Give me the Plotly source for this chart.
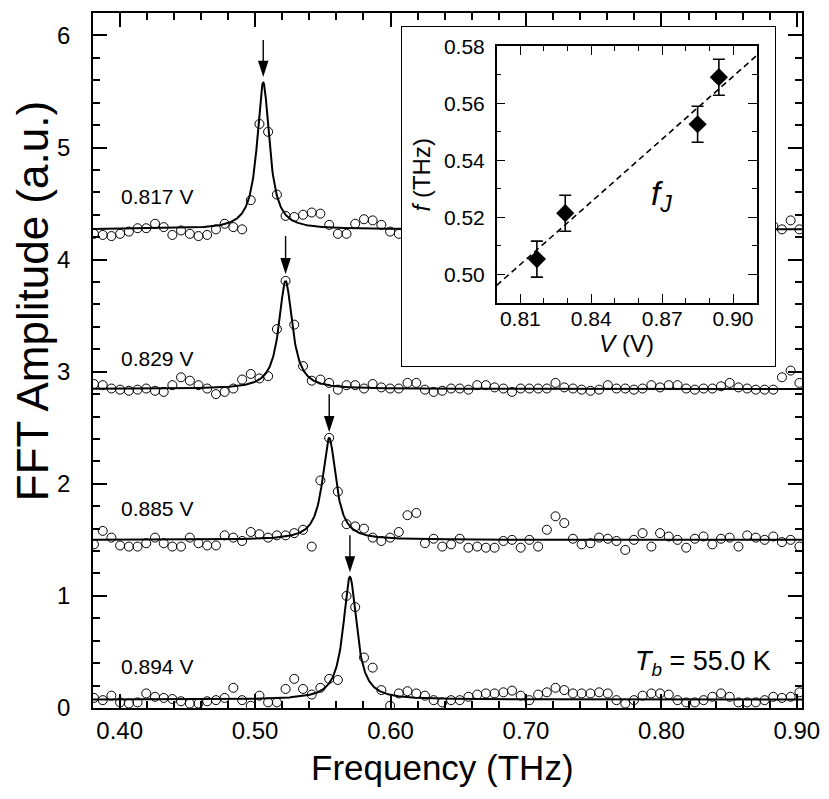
import numpy as np
import plotly.graph_objects as go

# ---------------- data ----------------
freq = [0.3810, 0.3875, 0.3939, 0.4003, 0.4068, 0.4132, 0.4196, 0.4261, 0.4325, 0.4389,
        0.4453, 0.4518, 0.4582, 0.4646, 0.4711, 0.4775, 0.4839, 0.4904, 0.4968, 0.5032,
        0.5096, 0.5161, 0.5225, 0.5289, 0.5354, 0.5418, 0.5482, 0.5547, 0.5611, 0.5675,
        0.5739, 0.5804, 0.5868, 0.5932, 0.5997, 0.6061, 0.6125, 0.6190, 0.6254, 0.6318,
        0.6382, 0.6447, 0.6511, 0.6575, 0.6640, 0.6704, 0.6768, 0.6833, 0.6897, 0.6961,
        0.7025, 0.7090, 0.7154, 0.7218, 0.7283, 0.7347, 0.7411, 0.7476, 0.7540, 0.7604,
        0.7668, 0.7733, 0.7797, 0.7861, 0.7926, 0.7990, 0.8054, 0.8119, 0.8183, 0.8247,
        0.8311, 0.8376, 0.8440, 0.8504, 0.8569, 0.8633, 0.8697, 0.8762, 0.8826, 0.8890,
        0.8954, 0.9019]

amp_817 = [4.23, 4.22, 4.21, 4.23, 4.25, 4.28, 4.28, 4.32, 4.29, 4.22,
           4.26, 4.23, 4.21, 4.22, 4.27, 4.32, 4.29, 4.27, 4.53, 5.21,
           5.14, 4.58, 4.39, 4.38, 4.40, 4.42, 4.41, 4.31, 4.23, 4.23,
           4.32, 4.36, 4.35, 4.31, 4.25, 4.23] + [None] * 42 + [4.30, 4.27, 4.35, 4.27]

amp_829 = [2.89, 2.88, 2.85, 2.84, 2.83, 2.84, 2.85, 2.83, 2.82, 2.88,
           2.95, 2.92, 2.88, 2.85, 2.80, 2.82, 2.85, 2.93, 2.98, 2.94,
           2.96, 3.38, 3.81, 3.42, 3.05, 2.92, 2.93, 2.90, 2.84, 2.88,
           2.88, 2.85, 2.89, 2.86, 2.85, 2.85, 2.90, 2.90, 2.84, 2.82,
           2.83, 2.85, 2.85, 2.84, 2.88, 2.88, 2.86, 2.85, 2.82, 2.85,
           2.85, 2.85, 2.85, 2.90, 2.86, 2.85, 2.84, 2.83, 2.84, 2.88,
           2.85, 2.85, 2.84, 2.85, 2.88, 2.86, 2.88, 2.88, 2.85, 2.84,
           2.85, 2.85, 2.87, 2.90, 2.86, 2.85, 2.84, 2.84, 2.84, 2.95,
           3.01, 2.90]

amp_885 = [1.46, 1.58, 1.52, 1.45, 1.44, 1.44, 1.47, 1.52, 1.47, 1.44,
           1.44, 1.52, 1.47, 1.45, 1.45, 1.54, 1.52, 1.49, 1.57, 1.55,
           1.52, 1.54, 1.54, 1.56, 1.59, 1.44, 2.03, 2.41, 1.93, 1.64,
           1.62, 1.60, 1.52, 1.49, 1.52, 1.57, 1.72, 1.74, 1.47, 1.51,
           1.44, 1.46, 1.51, 1.43, 1.44, 1.43, 1.43, 1.49, 1.50, 1.43,
           1.50, 1.44, 1.59, 1.71, 1.65, 1.51, 1.46, 1.47, 1.52, 1.51,
           1.49, 1.41, 1.50, 1.56, 1.44, 1.56, 1.53, 1.50, 1.43, 1.51,
           1.53, 1.46, 1.51, 1.52, 1.44, 1.54, 1.52, 1.50, 1.53, 1.48,
           1.50, 1.44]

amp_894 = [0.09, 0.07, 0.11, 0.05, 0.04, 0.05, 0.13, 0.10, 0.09, 0.08,
           0.06, 0.04, 0.04, 0.06, 0.07, 0.09, 0.18, 0.07, 0.02, 0.11,
           0.05, 0.05, 0.17, 0.26, 0.17, 0.12, 0.18, 0.26, 0.25, 1.00,
           0.90, 0.45, 0.36, 0.16, 0.02, 0.13, 0.15, 0.13, 0.11, 0.07,
           0.05, 0.07, 0.07, 0.10, 0.12, 0.13, 0.13, 0.14, 0.155, 0.11,
           0.07, 0.12, 0.14, 0.18, 0.16, 0.13, 0.13, 0.13, 0.14, 0.13,
           0.07, 0.04, 0.07, 0.11, 0.13, 0.13, 0.12, 0.07, 0.05, 0.05,
           0.07, 0.10, 0.13, 0.10, 0.05, 0.05, 0.05, 0.07, 0.10, 0.09,
           0.10, 0.14]

series = [amp_817, amp_829, amp_885, amp_894]
labels = ["0.817 V", "0.829 V", "0.885 V", "0.894 V"]
label_y = [4.56, 3.12, 1.78, 0.37]

# Lorentzian fit parameters
fit_center = [0.506, 0.5225, 0.5547, 0.570]
fit_hwhm = [0.0055, 0.006, 0.006, 0.006]
fit_peak = [5.58, 3.81, 2.41, 1.17]
fit_base = [4.27, 2.846, 1.50, 0.075]

arrow_tip = [5.63, 3.87, 2.46, 1.21]
arrow_tail = [5.96, 4.21, 2.80, 1.54]

# inset
inset_v = [0.817, 0.829, 0.885, 0.894]
inset_f = [0.5054, 0.5215, 0.5527, 0.5692]
inset_err = [0.0063, 0.0063, 0.0063, 0.0063]
line_v = [0.80, 0.91]
line_f = [0.4962, 0.5768]

FONT = "Arial, Liberation Sans, sans-serif"

fig = go.Figure()

f_dense = np.linspace(0.378, 0.906, 1200)
for c, g, p, b in zip(fit_center, fit_hwhm, fit_peak, fit_base):
    yfit = b + (p - b) / (1.0 + ((f_dense - c) / g) ** 2)
    fig.add_trace(go.Scatter(x=f_dense, y=yfit, mode="lines",
                             line=dict(color="black", width=2), hoverinfo="skip"))

for amp in series:
    fig.add_trace(go.Scatter(x=freq, y=amp, mode="markers",
                             marker=dict(symbol="circle-open", size=9,
                                         color="black", line=dict(width=1, color="black"))))

# peak arrows: shafts + heads
shaft_x, shaft_y = [], []
for c, tip, tail in zip(fit_center, arrow_tip, arrow_tail):
    shaft_x += [c, c, None]
    shaft_y += [tail, tip + 0.08, None]
fig.add_trace(go.Scatter(x=shaft_x, y=shaft_y, mode="lines",
                         line=dict(color="black", width=1.4), hoverinfo="skip"))
fig.add_trace(go.Scatter(x=fit_center, y=arrow_tip, mode="markers", hoverinfo="skip",
                         marker=dict(symbol="arrow", angle=180, size=17, color="black",
                                     line=dict(width=0))))

# frame subplot for inset (white background box)
fig.add_trace(go.Scatter(x=[], y=[], xaxis="x2", yaxis="y2"))

# inset data
fig.add_trace(go.Scatter(x=line_v, y=line_f, mode="lines", xaxis="x3", yaxis="y3",
                         line=dict(color="black", width=1.6, dash="6px,4px")))
fig.add_trace(go.Scatter(x=inset_v, y=inset_f, mode="markers", xaxis="x3", yaxis="y3",
                         marker=dict(symbol="diamond", size=14, color="black"),
                         error_y=dict(type="data", array=inset_err, visible=True,
                                      color="black", thickness=1.6, width=6)))

annotations = []
for lab, ly in zip(labels, label_y):
    annotations.append(dict(x=0.3993, y=ly, xref="x", yref="y", text=lab, showarrow=False,
                            xanchor="left", yanchor="middle",
                            font=dict(family=FONT, size=21, color="black")))

annotations.append(dict(x=0.8826, y=0.40, xref="x", yref="y",
                        text="<i>T</i><sub><i>b</i></sub> = 55.0 K", showarrow=False,
                        xanchor="right", yanchor="middle",
                        font=dict(family=FONT, size=27, color="black")))
annotations.append(dict(x=0.8645, y=0.5275, xref="x3", yref="y3",
                        text="<i>f</i><sub><i>J</i></sub>", showarrow=False,
                        xanchor="left", yanchor="middle",
                        font=dict(family=FONT, size=33, color="black")))
# axis titles
annotations.append(dict(x=0.4935, y=-0.085, xref="paper", yref="paper",
                        text="Frequency (THz)", showarrow=False,
                        xanchor="center", yanchor="middle",
                        font=dict(family=FONT, size=35, color="black")))
annotations.append(dict(x=-0.085, y=0.585, xref="paper", yref="paper",
                        text="FFT Amplitude (a.u.)", showarrow=False, textangle=-90,
                        xanchor="center", yanchor="middle",
                        font=dict(family=FONT, size=44, color="black")))

main_ax = dict(showline=True, linecolor="black", linewidth=1.8, mirror="allticks",
               ticks="inside", ticklen=14, tickwidth=1.6, tickcolor="black",
               showgrid=False, zeroline=False,
               tickfont=dict(family=FONT, size=24, color="black"))

fig.update_layout(
    width=829, height=799,
    margin=dict(l=93, r=27, t=1, b=91),
    paper_bgcolor="white", plot_bgcolor="white",
    showlegend=False,
    xaxis=dict(**main_ax, range=[0.3803, 0.9038], tick0=0.4, dtick=0.1, tickformat=".2f",
               ticklabelstandoff=0,
               minor=dict(dtick=0.02, ticks="inside", ticklen=7, tickwidth=1.6, tickcolor="black")),
    yaxis=dict(**main_ax, range=[0, 6.2], tick0=0, dtick=1, ticklabelstandoff=16,
               minor=dict(dtick=0.2, ticks="inside", ticklen=7, tickwidth=1.6, tickcolor="black")),
    xaxis2=dict(domain=[0.4354, 0.9619], anchor="y2", range=[0, 1], showline=True,
                linecolor="black", linewidth=1.2, mirror=True, ticks="", showticklabels=False,
                showgrid=False, zeroline=False, fixedrange=True),
    yaxis2=dict(domain=[0.4922, 0.980], anchor="x2", range=[0, 1], showline=True,
                linecolor="black", linewidth=1.2, mirror=True, ticks="", showticklabels=False,
                showgrid=False, zeroline=False, fixedrange=True),
    xaxis3=dict(domain=[0.5694, 0.9361], anchor="y3", range=[0.80, 0.91],
                tick0=0.81, dtick=0.03, tickformat=".2f",
                showline=True, linecolor="black", linewidth=1.5, mirror="allticks",
                ticks="inside", ticklen=9, tickwidth=1.4, tickcolor="black",
                showgrid=False, zeroline=False, ticklabelstandoff=-4,
                tickfont=dict(family=FONT, size=21, color="black"),
                minor=dict(dtick=0.01, ticks="inside", ticklen=5, tickwidth=1.4, tickcolor="black"),
                title=dict(text="<i>V</i> (V)", standoff=2,
                           font=dict(family=FONT, size=24, color="black"))),
    yaxis3=dict(domain=[0.5827, 0.9519], anchor="x3", range=[0.49, 0.58],
                tick0=0.50, dtick=0.02, tickformat=".2f",
                showline=True, linecolor="black", linewidth=1.5, mirror="allticks",
                ticks="inside", ticklen=9, tickwidth=1.4, tickcolor="black",
                showgrid=False, zeroline=False, ticklabelstandoff=6,
                tickfont=dict(family=FONT, size=21, color="black"),
                minor=dict(dtick=0.01, ticks="inside", ticklen=5, tickwidth=1.4, tickcolor="black"),
                title=dict(text="<i>f</i> (THz)", standoff=6,
                           font=dict(family=FONT, size=24, color="black"))),
    annotations=annotations,
)

fig.write_html("out.html", config={"displayModeBar": False},
               post_script="document.body.style.margin='0px';")
